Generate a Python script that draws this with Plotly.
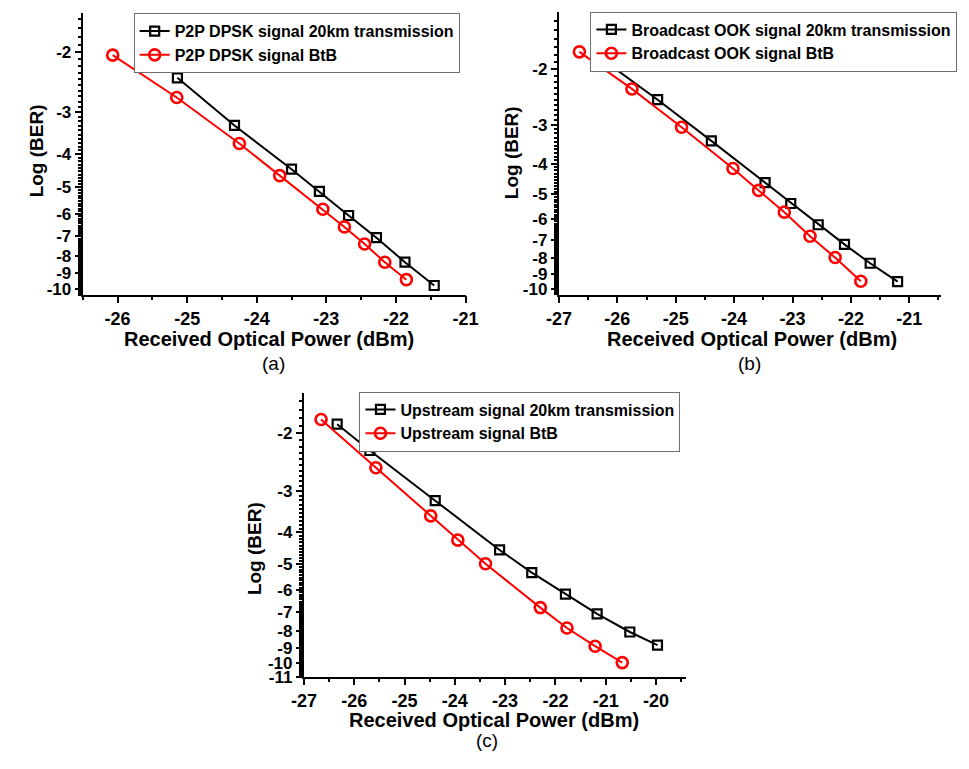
import math
import plotly.graph_objects as go

W, H = 969, 769

# ---- data: received optical power (dBm) and log10(BER) ----
# (a) point-to-point DPSK downstream
a_p_20km = [-25.14, -24.32, -23.50, -23.10, -22.68, -22.28, -21.87, -21.45]
a_ber_20km = [-2.38, -3.29, -4.43, -5.15, -6.07, -7.06, -8.34, -9.77]
a_p_btb = [-26.07, -25.15, -24.25, -23.67, -23.05, -22.74, -22.45, -22.16, -21.85]
a_ber_btb = [-2.04, -2.72, -3.72, -4.63, -5.82, -6.56, -7.37, -8.34, -9.39]

# (b) broadcast OOK downstream
b_p_20km = [-26.22, -25.31, -24.39, -23.47, -23.03, -22.56, -22.11, -21.67, -21.20]
b_ber_20km = [-1.88, -2.50, -3.38, -4.59, -5.35, -6.25, -7.22, -8.29, -9.48]
b_p_btb = [-26.65, -25.75, -24.90, -24.02, -23.58, -23.14, -22.70, -22.27, -21.83]
b_ber_btb = [-1.76, -2.31, -3.06, -4.14, -4.86, -5.70, -6.80, -7.95, -9.46]

# (c) upstream
c_p_20km = [-26.34, -25.69, -24.39, -23.11, -22.47, -21.80, -21.17, -20.52, -19.97]
c_ber_20km = [-1.88, -2.26, -3.21, -4.53, -5.31, -6.17, -7.08, -8.04, -8.81]
c_p_btb = [-26.66, -25.57, -24.48, -23.94, -23.39, -22.30, -21.77, -21.21, -20.67]
c_ber_btb = [-1.82, -2.55, -3.57, -4.23, -4.99, -6.78, -7.82, -8.88, -9.96]

panels = [
    dict(tag="(a)",
         names=["P2P DPSK signal 20km transmission", "P2P DPSK signal BtB"],
         p20=a_p_20km, b20=a_ber_20km, pb=a_p_btb, bb=a_ber_btb,
         xbox=(71.7, 465), ybox=(13, 299), xr=(-26.5, -21.0), yr=(10.43, 1.53),
         yticks=list(range(2, 11)),
         legend=(124, 13.3), xtitle=(263, 343), ytitle=(24, 153), label=(268, 368)),
    dict(tag="(b)",
         names=["Broadcast OOK signal 20km transmission", "Broadcast OOK signal BtB"],
         p20=b_p_20km, b20=b_ber_20km, pb=b_p_btb, bb=b_ber_btb,
         xbox=(561, 954), ybox=(11.7, 299), xr=(-27.0, -20.45), yr=(10.47, 1.31),
         yticks=list(range(2, 11)),
         legend=(593.3, 11.7), xtitle=(759, 343), ytitle=(513, 155), label=(757, 368)),
    dict(tag="(c)",
         names=["Upstream signal 20km transmission", "Upstream signal BtB"],
         p20=c_p_20km, b20=c_ber_20km, pb=c_p_btb, bb=c_ber_btb,
         xbox=(299, 691.7), ybox=(398, 686), xr=(-27.0, -19.4), yr=(11.02, 1.51),
         yticks=list(range(2, 12)),
         legend=(356, 396.7), xtitle=(494, 729), ytitle=(248, 556), label=(487, 750)),
]

FONT = "Arial, Liberation Sans, sans-serif"
BLACK = "#000000"
RED = "#ff0000"

fig = go.Figure()
layout = dict(
    width=W, height=H,
    margin=dict(l=0, r=0, t=0, b=0),
    paper_bgcolor="white", plot_bgcolor="white",
    font=dict(family=FONT, color="black"),
    annotations=[],
)

n = len(panels)
for i, p in enumerate(panels):
    k = "" if i == 0 else str(i + 1)
    km = str(i + 1 + n)  # overlay axes that carry the minor ticks
    xa, ya = "x" + k, "y" + k
    lg = "legend" + k

    fig.add_trace(go.Scatter(
        x=p["p20"], y=[-v for v in p["b20"]], xaxis=xa, yaxis=ya, legend=lg,
        name=p["names"][0], mode="lines+markers",
        line=dict(color=BLACK, width=2),
        marker=dict(symbol="square-open", size=9, color=BLACK, line=dict(width=2.2)),
    ))
    fig.add_trace(go.Scatter(
        x=p["pb"], y=[-v for v in p["bb"]], xaxis=xa, yaxis=ya, legend=lg,
        name=p["names"][1], mode="lines+markers",
        line=dict(color=RED, width=2),
        marker=dict(symbol="circle-open", size=11, color=RED, line=dict(width=2.6)),
    ))

    x0, x1 = p["xbox"]
    y0, y1 = p["ybox"]
    xdom = [x0 / W, x1 / W]
    ydom = [1 - y1 / H, 1 - y0 / H]
    yrange = [math.log10(p["yr"][0]), math.log10(p["yr"][1])]
    minor_y = [round(v / 10, 1) for v in range(math.ceil(p["yr"][1] * 10), int(p["yr"][0] * 10) + 1)]
    minor_x = [v / 2 for v in range(math.ceil(p["xr"][0] * 2), math.floor(p["xr"][1] * 2) + 1)]
    major_x = list(range(math.ceil(p["xr"][0]), math.floor(p["xr"][1]) + 1))

    tickfont = dict(size=18, family=FONT, weight="bold", color="black")

    layout["xaxis" + k] = dict(
        domain=xdom, anchor=ya, range=list(p["xr"]),
        showline=True, linecolor="black", linewidth=2.2, showgrid=False, zeroline=False,
        ticks="outside", ticklen=6, tickwidth=2, tickcolor="black",
        tickmode="array", tickvals=major_x, ticktext=[str(v) for v in major_x],
        tickfont=tickfont, layer="above traces",
    )
    layout["yaxis" + k] = dict(
        domain=ydom, anchor=xa, type="log", range=yrange,
        showline=True, linecolor="black", linewidth=2.2, showgrid=False, zeroline=False,
        ticks="outside", ticklen=6, tickwidth=2, tickcolor="black",
        tickmode="array", tickvals=p["yticks"], ticktext=["-" + str(v) for v in p["yticks"]],
        tickfont=dict(size=17, family=FONT, weight="bold", color="black"),
        layer="above traces",
    )
    # minor tick axes overlaid on the main ones
    layout["xaxis" + km] = dict(
        domain=xdom, anchor=ya, overlaying=xa, side="bottom", range=list(p["xr"]),
        showline=False, showgrid=False, zeroline=False,
        ticks="outside", ticklen=3.5, tickwidth=2, tickcolor="black",
        tickmode="array", tickvals=minor_x, showticklabels=False,
    )
    layout["yaxis" + km] = dict(
        domain=ydom, anchor=xa, overlaying=ya, side="left", type="log", range=yrange,
        showline=False, showgrid=False, zeroline=False,
        ticks="outside", ticklen=3.5, tickwidth=1.5, tickcolor="black",
        tickmode="array", tickvals=minor_y, showticklabels=False,
    )
    # an invisible trace keeps the overlay axes drawn
    fig.add_trace(go.Scatter(
        x=[p["xr"][0]], y=[p["yr"][1]], xaxis="x" + km, yaxis="y" + km,
        mode="markers", marker=dict(size=1, opacity=0), showlegend=False, hoverinfo="skip",
    ))

    lx, ly = p["legend"]
    layout[lg] = dict(
        x=lx / W, y=1 - ly / H, xanchor="left", yanchor="top",
        xref="paper", yref="paper",
        bgcolor="white", bordercolor="#6e6e6e", borderwidth=1,
        font=dict(size=16, family=FONT, weight="bold", color="black"),
        tracegroupgap=0, itemwidth=30, traceorder="normal",
    )
    tx, ty = p["xtitle"]
    layout["annotations"].append(dict(
        text="Received Optical Power (dBm)", x=tx / W, y=1 - ty / H,
        xref="paper", yref="paper", showarrow=False, xanchor="center", yanchor="middle",
        font=dict(size=20, family=FONT, weight="bold"),
    ))
    tx, ty = p["ytitle"]
    layout["annotations"].append(dict(
        text="Log (BER)", x=tx / W, y=1 - ty / H, textangle=-90,
        xref="paper", yref="paper", showarrow=False, xanchor="center", yanchor="middle",
        font=dict(size=19, family=FONT, weight="bold"),
    ))
    tx, ty = p["label"]
    layout["annotations"].append(dict(
        text=p["tag"], x=tx / W, y=1 - ty / H,
        xref="paper", yref="paper", showarrow=False, xanchor="center", yanchor="middle",
        font=dict(size=19, family=FONT),
    ))

fig.update_layout(**layout)
fig.write_html("out.html")
